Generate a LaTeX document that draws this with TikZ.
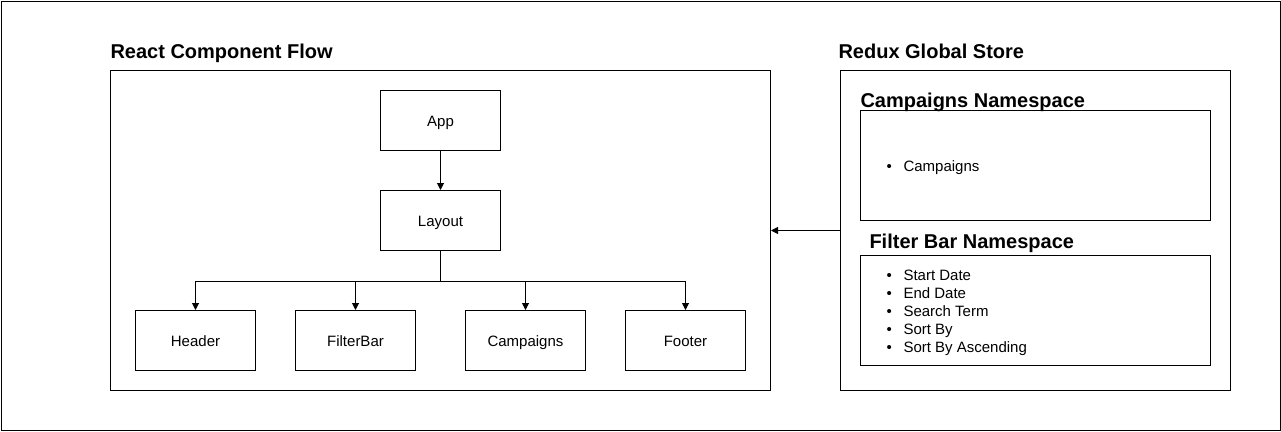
\documentclass[tikz,border=0pt]{standalone}
\usepackage{fontspec}
\setmainfont{Liberation Sans}
\usetikzlibrary{arrows.meta}
\begin{document}
\begin{tikzpicture}[x=1pt,y=-1pt,
 line width=1pt,
 box/.style={draw,line width=1pt,minimum width=120pt,minimum height=60pt,anchor=north west,inner sep=0pt,text height=11pt,text depth=0pt,font=\fontsize{15}{18}\selectfont},
 frame/.style={draw,line width=1pt,anchor=north west,inner sep=0pt},
 title/.style={anchor=base west,inner sep=0pt,font=\fontsize{20}{24}\selectfont\bfseries},
 item/.style={anchor=base west,inner sep=0pt,font=\fontsize{15}{18}\selectfont},
 arr/.style={-{Triangle[length=7pt,width=7pt]},line width=1pt}]
\useasboundingbox (0,0) rectangle (1281,431);
\node[frame,minimum width=1279.5pt,minimum height=429.5pt] (outer) at (0.5,0.5) {};
\node[frame,minimum width=660pt,minimum height=320pt] (react) at (110,70) {};
\node[frame,minimum width=390pt,minimum height=320pt] (redux) at (840,70) {};
\node[frame,minimum width=350pt,minimum height=110pt] (campns) at (860,110) {};
\node[frame,minimum width=350pt,minimum height=110pt] (filterns) at (860,255) {};

\node[title] (reacttitle) at (110,58) {React Component Flow};
\node[title] (reduxtitle) at (838,58) {Redux Global Store};
\node[title] (camptitle) at (860,107) {Campaigns Namespace};
\node[title] (filtertitle) at (869,248) {Filter Bar Namespace};

\node[box] (app) at (380,90) {App};
\node[box] (layout) at (380,190) {Layout};
\node[box] (header) at (135,310) {Header};
\node[box] (filterbar) at (295,310) {FilterBar};
\node[box] (campaigns) at (465,310) {Campaigns};
\node[box] (footer) at (625,310) {Footer};

\draw[arr] (app) -- (layout);
\draw[arr] (layout.south) -- ++(0,30) -| (header.north);
\draw[arr] (layout.south) -- ++(0,30) -| (filterbar.north);
\draw[arr] (layout.south) -- ++(0,30) -| (campaigns.north);
\draw[arr] (layout.south) -- ++(0,30) -| (footer.north);
\draw[arr] (redux.west) -- (react.east);

\node[item] (b0) at (886,171) {\textbullet};
\node[item] (t0) at (903,171) {Campaigns};
\node[item] (b1) at (886,280) {\textbullet};
\node[item] (t1) at (903,280) {Start Date};
\node[item] (b2) at (886,298) {\textbullet};
\node[item] (t2) at (903,298) {End Date};
\node[item] (b3) at (886,316) {\textbullet};
\node[item] (t3) at (903,316) {Search Term};
\node[item] (b4) at (886,334) {\textbullet};
\node[item] (t4) at (903,334) {Sort By};
\node[item] (b5) at (886,352) {\textbullet};
\node[item] (t5) at (903,352) {Sort By Ascending};
\end{tikzpicture}
\end{document}
